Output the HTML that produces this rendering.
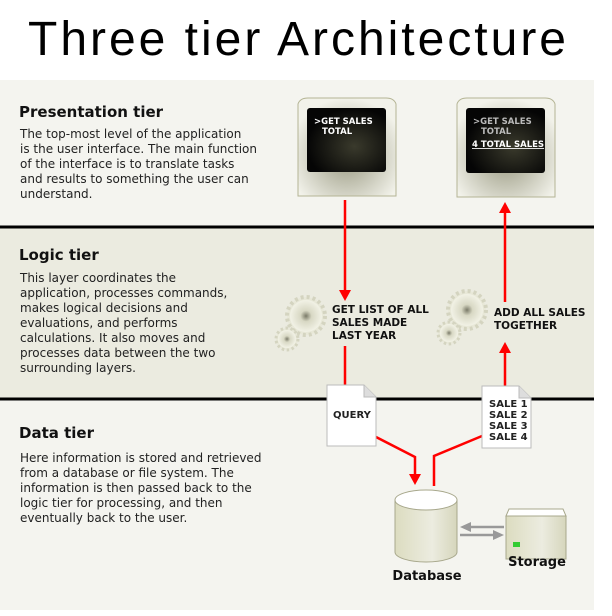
<!DOCTYPE html>
<html><head><meta charset="utf-8"><style>
html,body{margin:0;padding:0;background:#fff;}
svg{display:block;}
</style></head><body>
<svg width="612" height="616" viewBox="0 0 612 616" xmlns="http://www.w3.org/2000/svg" font-family="DejaVu Sans, Liberation Sans, sans-serif">
<defs>
<radialGradient id="scr" cx="0.6" cy="0.6" r="0.6"><stop offset="0" stop-color="#3a3a2c"/><stop offset="1" stop-color="#050505"/></radialGradient>
<radialGradient id="mon" cx="0.5" cy="0.6" r="0.6"><stop offset="0" stop-color="#9a9a82"/><stop offset="1" stop-color="#f2f2ea"/></radialGradient>
<linearGradient id="cyl" x1="0" x2="1"><stop offset="0" stop-color="#dcdcc0"/><stop offset="0.6" stop-color="#ecece0"/><stop offset="1" stop-color="#d6d6bc"/></linearGradient>
<radialGradient id="gear" cx="0.5" cy="0.5" r="0.5"><stop offset="0" stop-color="#7a7a68"/><stop offset="0.35" stop-color="#d8d8c4"/><stop offset="1" stop-color="#f2f2e6"/></radialGradient>
</defs>
<rect width="612" height="616" fill="#fff"/>
<text x="297" y="55" font-family="Liberation Sans, sans-serif" font-size="48" text-anchor="middle" textLength="538" lengthAdjust="spacing" fill="#000">Three tier Architecture</text>
<rect x="0" y="80" width="594" height="147" fill="#f4f4ef"/>
<rect x="0" y="227" width="594" height="171" fill="#ebebe0"/>
<rect x="0" y="398" width="594" height="212" fill="#f4f4ef"/>
<line x1="0" y1="227" x2="594" y2="227" stroke="#000" stroke-width="3"/>
<line x1="0" y1="399" x2="594" y2="399" stroke="#000" stroke-width="3"/>

<g fill="#111">
<text x="19" y="117" font-size="15" font-weight="bold">Presentation tier</text>
<g font-size="12" fill="#222">
<text x="20" y="138">The top-most level of the application</text>
<text x="20" y="153">is the user interface. The main function</text>
<text x="20" y="168">of the interface is to translate tasks</text>
<text x="20" y="183">and results to something the user can</text>
<text x="20" y="198">understand.</text>
</g>
<text x="19" y="260" font-size="15" font-weight="bold">Logic tier</text>
<g font-size="12" fill="#222">
<text x="20" y="282">This layer coordinates the</text>
<text x="20" y="297">application, processes commands,</text>
<text x="20" y="312">makes logical decisions and</text>
<text x="20" y="327">evaluations, and performs</text>
<text x="20" y="342">calculations.  It also moves and</text>
<text x="20" y="357">processes data between the two</text>
<text x="20" y="372">surrounding layers.</text>
</g>
<text x="19" y="438" font-size="15" font-weight="bold">Data tier</text>
<g font-size="12" fill="#222">
<text x="20" y="462">Here information is stored and retrieved</text>
<text x="20" y="477">from a database or file system.  The</text>
<text x="20" y="492">information is then passed back to the</text>
<text x="20" y="507">logic tier for processing, and then</text>
<text x="20" y="522">eventually back to the user.</text>
</g>
</g>

<path d="M298,196 L298,104 Q300,98 308,98 L386,98 Q394,98 396,104 L396,196 Z" fill="url(#mon)" stroke="#b4b494"/>
<rect x="307" y="108" width="79" height="64" rx="3" fill="url(#scr)"/>
<g font-size="8.5" font-weight="bold" fill="#fff"><text x="314" y="124">&gt;GET SALES</text><text x="322" y="134">TOTAL</text></g>
<path d="M457,197 L457,104 Q459,98 467,98 L545,98 Q553,98 555,104 L555,197 Z" fill="url(#mon)" stroke="#b4b494"/>
<rect x="466" y="108" width="79" height="65" rx="3" fill="url(#scr)"/>
<g font-size="8.5" font-weight="bold"><text x="473" y="124" fill="#bbb">&gt;GET SALES</text><text x="481" y="134" fill="#bbb">TOTAL</text><text x="472" y="147" fill="#fff" text-decoration="underline">4 TOTAL SALES</text></g>

<g>
<circle cx="306" cy="316" r="19" fill="#e8e8d8" stroke="#d4d4c0" stroke-width="4" stroke-dasharray="3 3"/>
<circle cx="306" cy="316" r="16" fill="url(#gear)"/>
<circle cx="287" cy="339" r="11" fill="#e8e8d8" stroke="#d4d4c0" stroke-width="3" stroke-dasharray="2.5 2.5"/>
<circle cx="287" cy="339" r="9" fill="url(#gear)"/>
<circle cx="467" cy="310" r="19" fill="#e8e8d8" stroke="#d4d4c0" stroke-width="4" stroke-dasharray="3 3"/>
<circle cx="467" cy="310" r="16" fill="url(#gear)"/>
<circle cx="449" cy="333" r="11" fill="#e8e8d8" stroke="#d4d4c0" stroke-width="3" stroke-dasharray="2.5 2.5"/>
<circle cx="449" cy="333" r="9" fill="url(#gear)"/>
</g>
<g font-size="10.5" font-weight="bold" fill="#111">
<text x="332" y="313">GET LIST OF ALL</text><text x="332" y="326">SALES MADE</text><text x="332" y="339">LAST YEAR</text>
<text x="494" y="316">ADD ALL SALES</text><text x="494" y="329">TOGETHER</text>
</g>

<g stroke="#f00" stroke-width="2.5" fill="none">
<line x1="345" y1="200" x2="345" y2="292"/>
<line x1="345" y1="346" x2="345" y2="386"/>
<line x1="505" y1="302" x2="505" y2="212"/>
<line x1="505" y1="386" x2="505" y2="352"/>
<polyline points="376,437 415,457 415,475"/>
<polyline points="482,436 434,456 434,486"/>
</g>
<g fill="#f00">
<polygon points="339,290 351,290 345,301"/>
<polygon points="499,213 511,213 505,202"/>
<polygon points="499,353 511,353 505,342"/>
<polygon points="409,474 421,474 415,485"/>
</g>

<path d="M327,385 L364,385 L376,397 L376,446 L327,446 Z" fill="#fff" stroke="#bbb"/>
<path d="M364,385 L364,397 L376,397" fill="#ddd" stroke="#bbb"/>
<text x="333" y="418" font-size="10" font-weight="bold" fill="#222">QUERY</text>
<path d="M482,386 L519,386 L531,398 L531,448 L482,448 Z" fill="#fff" stroke="#bbb"/>
<path d="M519,386 L519,398 L531,398" fill="#ddd" stroke="#bbb"/>
<g font-size="10" font-weight="bold" fill="#222"><text x="489" y="407">SALE 1</text><text x="489" y="418">SALE 2</text><text x="489" y="429">SALE 3</text><text x="489" y="440">SALE 4</text></g>

<path d="M395,500 L395,552 A31,10 0 0 0 457,552 L457,500 Z" fill="url(#cyl)" stroke="#a8a88c"/>
<ellipse cx="426" cy="500" rx="31" ry="10" fill="#fff" stroke="#a8a88c"/>
<text x="427" y="580" font-size="13" font-weight="bold" text-anchor="middle" fill="#111">Database</text>
<path d="M506,516 L509,509 L563,509 L566,516 Z" fill="#fff" stroke="#a8a88c"/>
<rect x="506" y="516" width="60" height="43" fill="url(#cyl)" stroke="#a8a88c"/>
<rect x="513" y="542" width="7" height="5" fill="#3c3"/>
<text x="537" y="566" font-size="13" font-weight="bold" text-anchor="middle" fill="#111">Storage</text>
<g stroke="#999" stroke-width="2.5"><line x1="470" y1="527" x2="504" y2="527"/><line x1="460" y1="535" x2="494" y2="535"/></g>
<g fill="#999"><polygon points="460,527 471,522 471,532"/><polygon points="504,535 493,530 493,540"/></g>
</svg>
</body></html>
